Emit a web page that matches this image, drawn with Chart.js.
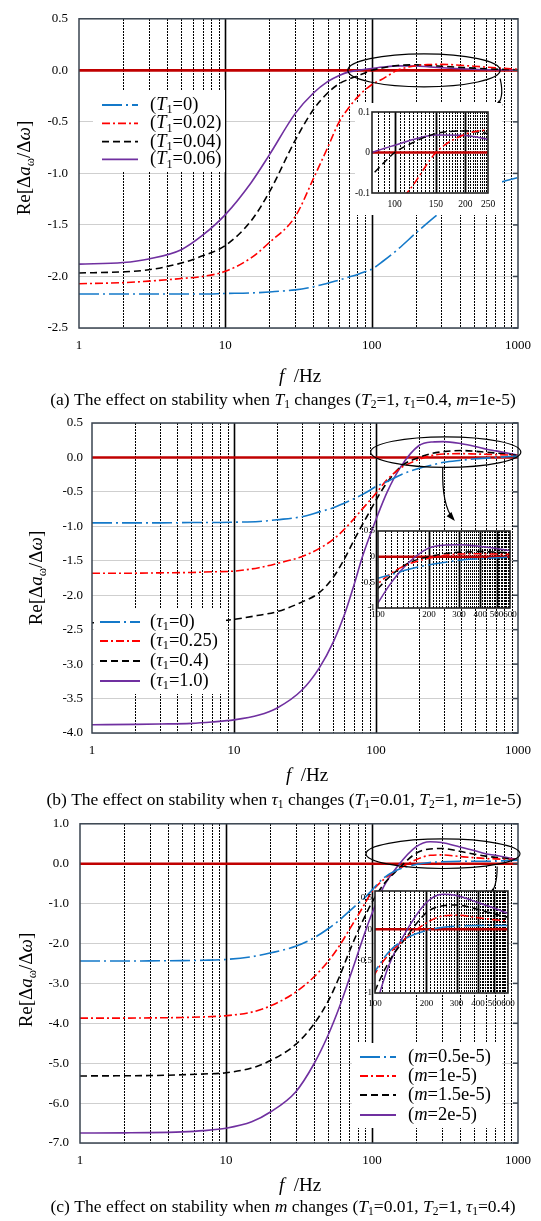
<!DOCTYPE html>
<html>
<head>
<meta charset="utf-8">
<script src="https://cdn.jsdelivr.net/npm/chart.js@4.4.0/dist/chart.umd.min.js"></script>
<style>
  body { margin: 0; background: #fff; width: 541px; height: 1221px; position: relative; overflow: hidden; }
  canvas { position: absolute; }
</style>
</head>
<body>
<canvas id="chartA" width="541" height="415" style="left:0px;top:0px"></canvas>
<canvas id="chartB" width="541" height="410" style="left:0px;top:405px"></canvas>
<canvas id="chartC" width="541" height="416" style="left:0px;top:805px"></canvas>
<canvas id="insetA" width="147" height="112" style="left:355px;top:103px"></canvas>
<canvas id="insetB" width="170" height="100" style="left:350px;top:522px"></canvas>
<canvas id="insetC" width="170" height="135" style="left:350px;top:882px"></canvas>
<script>
// ---- panel (a): T1 changes
var freqA = [1, 2, 3, 5, 7, 10, 15, 20, 30, 40, 50, 60, 70, 80, 90, 100, 120, 150, 200, 250, 300, 400, 500, 700, 1000];
var aT1_0    = [-2.17, -2.17, -2.17, -2.17, -2.17, -2.165, -2.16, -2.15, -2.13, -2.10, -2.065, -2.035, -2.005, -1.98, -1.955, -1.93, -1.85, -1.74, -1.58, -1.46, -1.37, -1.25, -1.18, -1.10, -1.04];
var aT1_002  = [-2.07, -2.06, -2.045, -2.02, -2.00, -1.95, -1.82, -1.67, -1.42, -1.05, -0.75, -0.50, -0.36, -0.26, -0.19, -0.14, -0.08, 0.0, 0.045, 0.056, 0.058, 0.05, 0.04, 0.025, 0.01];
var aT1_004  = [-1.966, -1.955, -1.935, -1.87, -1.80, -1.70, -1.46, -1.18, -0.68, -0.38, -0.22, -0.13, -0.085, -0.055, -0.025, 0.0, 0.025, 0.047, 0.053, 0.047, 0.04, 0.029, 0.021, 0.012, 0.005];
var aT1_006  = [-1.88, -1.865, -1.83, -1.74, -1.60, -1.40, -1.09, -0.82, -0.42, -0.22, -0.11, -0.05, -0.015, 0.0, 0.01, 0.018, 0.032, 0.043, 0.042, 0.033, 0.026, 0.016, 0.01, 0.005, 0.002];
var yTicksA = [-2.5, -2, -1.5, -1, -0.5, 0, 0.5];

// ---- panel (b): tau1 changes
var freqB = [1, 2, 3, 5, 7, 10, 15, 20, 30, 40, 50, 60, 70, 80, 90, 100, 120, 150, 200, 250, 300, 400, 500, 600, 700, 1000];
var bTau0   = [-0.95, -0.95, -0.95, -0.945, -0.945, -0.94, -0.93, -0.905, -0.86, -0.79, -0.73, -0.66, -0.60, -0.54, -0.48, -0.42, -0.35, -0.25, -0.16, -0.11, -0.07, -0.04, -0.02, -0.01, 0.0, 0.02];
var bTau025 = [-1.68, -1.68, -1.675, -1.67, -1.66, -1.65, -1.60, -1.54, -1.44, -1.32, -1.19, -1.04, -0.89, -0.75, -0.63, -0.52, -0.32, -0.15, -0.03, 0.03, 0.05, 0.055, 0.05, 0.045, 0.04, 0.03];
var bTau04  = [-2.40, -2.40, -2.395, -2.39, -2.38, -2.35, -2.29, -2.24, -2.10, -1.96, -1.74, -1.47, -1.20, -0.98, -0.79, -0.62, -0.36, -0.13, 0.0, 0.06, 0.085, 0.10, 0.09, 0.075, 0.065, 0.03];
var bTau1   = [-3.88, -3.875, -3.87, -3.86, -3.84, -3.81, -3.74, -3.64, -3.38, -3.05, -2.68, -2.28, -1.85, -1.45, -1.15, -0.90, -0.50, -0.13, 0.17, 0.225, 0.23, 0.20, 0.16, 0.12, 0.095, 0.03];
var yTicksB = [-4, -3.5, -3, -2.5, -2, -1.5, -1, -0.5, 0, 0.5];

// ---- panel (c): m changes
var freqC = [1, 2, 3, 5, 7, 10, 15, 20, 30, 40, 50, 60, 70, 80, 90, 100, 120, 150, 200, 250, 300, 400, 500, 600, 700, 1000];
var cM05 = [-2.44, -2.44, -2.435, -2.43, -2.42, -2.40, -2.33, -2.24, -2.07, -1.86, -1.63, -1.41, -1.19, -1.00, -0.84, -0.66, -0.36, -0.15, -0.02, 0.03, 0.05, 0.06, 0.06, 0.06, 0.065, 0.09];
var cM1  = [-3.87, -3.87, -3.865, -3.855, -3.84, -3.81, -3.72, -3.57, -3.22, -2.84, -2.45, -2.05, -1.65, -1.30, -0.98, -0.70, -0.40, -0.15, 0.10, 0.21, 0.22, 0.18, 0.15, 0.13, 0.12, 0.10];
var cM15 = [-5.32, -5.315, -5.31, -5.29, -5.27, -5.24, -5.12, -4.94, -4.53, -4.02, -3.45, -2.82, -2.20, -1.70, -1.30, -0.97, -0.52, -0.15, 0.26, 0.37, 0.38, 0.31, 0.24, 0.19, 0.16, 0.10];
var cM2  = [-6.75, -6.745, -6.74, -6.72, -6.69, -6.63, -6.47, -6.23, -5.72, -5.02, -4.30, -3.58, -2.88, -2.25, -1.70, -1.25, -0.58, -0.06, 0.42, 0.55, 0.53, 0.42, 0.33, 0.25, 0.21, 0.10];
var yTicksC = [-7, -6, -5, -4, -3, -2, -1, 0, 1];

var xTickLabels = [1, 10, 100, 1000];
var insetLabelsA = [100, 150, 200, 250];
var insetLabelsBC = [100, 200, 300, 400, 500, 600];
var insetYTicksA = [-0.1, 0, 0.1];
var insetYTicksB = [-1, -0.5, 0, 0.5];
var insetYTicksC = [-1, -0.5, 0, 0.5];
var stabilityBound = 0;

var SERIF = '"Liberation Serif", "Times New Roman", serif';
var FRAME = '#3a4450';
var COLORS = { blue: '#1479c9', red: '#ff0000', black: '#000000', purple: '#7030a0', zero: '#c00000' };
var DASH = { blue: [20, 4, 2, 4], red: [8, 3, 2, 3], black: [7, 4], purple: [] };

// small rich text: *italic* and _x subscript
function runs(str) {
    var out = [], it = false;
    for (var i = 0; i < str.length; i++) {
        var c = str[i], sub = false;
        if (c === '*') { it = !it; continue; }
        if (c === '_') { sub = true; c = str[++i]; }
        var last = out[out.length - 1];
        if (last && !sub && !last.sub && last.it === it) last.t += c;
        else out.push({ t: c, it: it, sub: sub });
    }
    return out;
}
function drawRich(ctx, str, x, y, size, align) {
    var rs = runs(str), w = 0;
    function font(r) { return (r.it ? 'italic ' : '') + (r.sub ? size * 0.66 : size) + 'px ' + SERIF; }
    rs.forEach(function(r) { ctx.font = font(r); r.w = ctx.measureText(r.t).width; w += r.w; });
    var cx = align === 'center' ? x - w / 2 : x;
    ctx.textAlign = 'left';
    ctx.textBaseline = 'middle';
    ctx.fillStyle = '#000';
    rs.forEach(function(r) {
        ctx.font = font(r);
        ctx.fillText(r.t, cx, y + (r.sub ? size * 0.28 : 0));
        cx += r.w;
    });
}

function series(freq, vals, label, key, width) {
    return {
        label: label,
        data: freq.map(function(f, i) { return { x: f, y: vals[i] }; }),
        borderColor: COLORS[key], borderDash: DASH[key], borderWidth: width,
        pointRadius: 0, fill: false, cubicInterpolationMode: 'monotone', inLegend: true
    };
}
function zeroSeries(freq, width) {
    return {
        label: 'zero',
        data: [{ x: freq[0], y: stabilityBound }, { x: freq[freq.length - 1], y: stabilityBound }],
        borderColor: COLORS.zero, borderWidth: width, pointRadius: 0, fill: false, inLegend: false
    };
}

function logGrid(lo, hi) {
    var out = [];
    for (var d = lo; d < hi; d *= 10)
        for (var k = 1; k < 10; k++) out.push(k * d);
    out.push(hi);
    return out;
}

function drawVGrid(chart, solid, solidW) {
    var ctx = chart.ctx, a = chart.chartArea, x = chart.scales.x;
    ctx.save();
    ctx.strokeStyle = '#000';
    x.ticks.forEach(function(t) {
        if (t.value <= x.min || t.value >= x.max) return;
        var isSolid = solid.indexOf(t.value) >= 0;
        var px = Math.round(x.getPixelForValue(t.value)) + 0.5;
        ctx.lineWidth = isSolid ? solidW : 1;
        ctx.setLineDash(isSolid ? [] : [2, 1]);
        ctx.beginPath();
        ctx.moveTo(px, Math.round(a.top));
        ctx.lineTo(px, a.bottom);
        ctx.stroke();
    });
    ctx.restore();
}

function panelDeco(p) {
    return {
        id: 'panelDeco',
        beforeDatasetsDraw: function(chart) { drawVGrid(chart, [10, 100], 1.6); },
        afterDatasetsDraw: function(chart) {
            var ctx = chart.ctx, a = chart.chartArea, x = chart.scales.x, y = chart.scales.y;
            ctx.save();
            ctx.strokeStyle = FRAME;
            ctx.lineWidth = 1.5;
            ctx.strokeRect(a.left, a.top, a.width, a.height);
            y.ticks.forEach(function(t) {
                var py = y.getPixelForValue(t.value);
                ctx.beginPath(); ctx.moveTo(a.right - 5, py); ctx.lineTo(a.right, py); ctx.stroke();
            });
            // ellipse around the zoomed region
            var e = p.ellipse;
            var ex0 = x.getPixelForValue(e.f0), ex1 = x.getPixelForValue(e.f1);
            var ey0 = y.getPixelForValue(e.v1), ey1 = y.getPixelForValue(e.v0);
            ctx.strokeStyle = '#000';
            ctx.lineWidth = 1.2;
            ctx.beginPath();
            ctx.ellipse((ex0 + ex1) / 2, (ey0 + ey1) / 2, (ex1 - ex0) / 2, (ey1 - ey0) / 2, 0, 0, Math.PI * 2);
            ctx.stroke();
            // arrow to the inset
            var pts = p.arrow.map(function(q) { return [x.getPixelForValue(q[0]), y.getPixelForValue(q[1])]; });
            ctx.beginPath();
            ctx.moveTo(pts[0][0], pts[0][1]);
            ctx.quadraticCurveTo(pts[1][0], pts[1][1], pts[2][0], pts[2][1]);
            ctx.stroke();
            var ang = Math.atan2(pts[2][1] - pts[1][1], pts[2][0] - pts[1][0]);
            ctx.fillStyle = '#000';
            ctx.beginPath();
            ctx.moveTo(pts[2][0] + 2 * Math.cos(ang), pts[2][1] + 2 * Math.sin(ang));
            ctx.lineTo(pts[2][0] - 7 * Math.cos(ang) + 3.2 * Math.sin(ang), pts[2][1] - 7 * Math.sin(ang) - 3.2 * Math.cos(ang));
            ctx.lineTo(pts[2][0] - 7 * Math.cos(ang) - 3.2 * Math.sin(ang), pts[2][1] - 7 * Math.sin(ang) + 3.2 * Math.cos(ang));
            ctx.closePath();
            ctx.fill();
            // legend
            var L = p.legend;
            ctx.fillStyle = '#fff';
            ctx.fillRect(L.box[0], L.box[1], L.box[2], L.box[3]);
            var items = chart.data.datasets.filter(function(d) { return d.inLegend; });
            items.forEach(function(d, i) {
                var ry = L.rows[i];
                ctx.strokeStyle = d.borderColor;
                ctx.lineWidth = 1.8;
                ctx.setLineDash(d.borderDash || []);
                ctx.beginPath(); ctx.moveTo(L.x0, ry); ctx.lineTo(L.x1, ry); ctx.stroke();
                ctx.setLineDash([]);
                drawRich(ctx, d.label, L.tx, ry, L.size, 'left');
            });
            ctx.restore();
        },
        afterDraw: function(chart) {
            var ctx = chart.ctx;
            ctx.save();
            ctx.translate(p.yTitle[0], p.yTitle[1]);
            ctx.rotate(-Math.PI / 2);
            drawRich(ctx, 'Re[Δ*a*_ω/Δ*ω*]', 0, 0, 19, 'center');
            ctx.restore();
            ctx.save();
            drawRich(ctx, '*f*  /Hz', p.xTitle[0], p.xTitle[1], 19, 'center');
            drawRich(ctx, p.caption, p.capPos[0], p.capPos[1], 17.5, 'center');
            ctx.restore();
        }
    };
}

function mainChart(id, p) {
    return new Chart(document.getElementById(id), {
        type: 'line',
        data: { datasets: p.datasets },
        options: {
            responsive: false, animation: false, devicePixelRatio: 1,
            layout: { padding: p.padding },
            plugins: { legend: { display: false }, tooltip: { enabled: false } },
            scales: {
                x: {
                    type: 'logarithmic', min: 1, max: 1000,
                    afterBuildTicks: function(s) { s.ticks = logGrid(1, 1000).map(function(v) { return { value: v }; }); },
                    afterFit: function(s) { s.height = 30; },
                    grid: { display: false, drawTicks: false }, border: { display: false },
                    ticks: {
                        autoSkip: false, maxRotation: 0, minRotation: 0, padding: 10, color: '#000',
                        font: { family: SERIF, size: 13 },
                        callback: function(v) { return xTickLabels.indexOf(v) >= 0 ? String(v) : ''; }
                    }
                },
                y: {
                    type: 'linear', min: p.yTicks[0], max: p.yTicks[p.yTicks.length - 1],
                    afterBuildTicks: function(s) { s.ticks = p.yTicks.map(function(v) { return { value: v }; }); },
                    afterFit: function(s) { s.width = p.yWidth; },
                    grid: { color: '#cfcfcf', lineWidth: 1, drawTicks: false }, border: { display: false },
                    ticks: {
                        padding: p.yPad, color: '#000', font: { family: SERIF, size: 13 },
                        callback: function(v) { return Number(v).toFixed(1); }
                    }
                }
            }
        },
        plugins: [panelDeco(p)]
    });
}

function insetDeco(q) {
    return {
        id: 'insetDeco',
        beforeDraw: function(chart) {
            var ctx = chart.ctx, a = chart.chartArea;
            ctx.save();
            ctx.fillStyle = '#fff';
            if (q.fullBg) ctx.fillRect(0, 0, chart.width, chart.height);
            else ctx.fillRect(a.left, a.top, a.width, a.height);
            ctx.restore();
        },
        beforeDatasetsDraw: function(chart) { drawVGrid(chart, q.solid, 1.8); },
        afterDatasetsDraw: function(chart) {
            var ctx = chart.ctx, a = chart.chartArea;
            ctx.save();
            ctx.strokeStyle = '#222';
            ctx.lineWidth = 1.6;
            ctx.strokeRect(a.left, a.top, a.width, a.height);
            ctx.restore();
        }
    };
}

function insetChart(id, q) {
    var grid = [];
    for (var v = q.xmin; v <= q.xmax; v += q.step) grid.push(v);
    return new Chart(document.getElementById(id), {
        type: 'line',
        data: { datasets: q.datasets },
        options: {
            responsive: false, animation: false, devicePixelRatio: 1,
            layout: { padding: q.padding },
            plugins: { legend: { display: false }, tooltip: { enabled: false } },
            scales: {
                x: {
                    type: 'logarithmic', min: q.xmin, max: q.xmax,
                    afterBuildTicks: function(s) { s.ticks = grid.map(function(v) { return { value: v }; }); },
                    afterFit: function(s) { s.height = q.xHeight; },
                    grid: { display: false, drawTicks: false }, border: { display: false },
                    ticks: {
                        autoSkip: false, maxRotation: 0, minRotation: 0, padding: q.xPad, color: '#000',
                        font: { family: SERIF, size: q.font },
                        callback: function(v) { return q.labels.indexOf(v) >= 0 ? String(v) : ''; }
                    }
                },
                y: {
                    type: 'linear', min: q.ymin, max: q.ymax,
                    afterBuildTicks: function(s) { s.ticks = q.yTicks.map(function(v) { return { value: v }; }); },
                    afterFit: function(s) { s.width = q.yWidth; },
                    grid: { display: false, drawTicks: false }, border: { display: false },
                    ticks: {
                        padding: q.yPad, color: '#000', font: { family: SERIF, size: q.font },
                        callback: function(v) { return String(v); }
                    }
                }
            }
        },
        plugins: [insetDeco(q)]
    });
}

function setA(w) {
    return [
        series(freqA, aT1_0, '(*T*_1=0)', 'blue', w),
        series(freqA, aT1_002, '(*T*_1=0.02)', 'red', w),
        series(freqA, aT1_004, '(*T*_1=0.04)', 'black', w),
        series(freqA, aT1_006, '(*T*_1=0.06)', 'purple', w),
        zeroSeries(freqA, w + 1)
    ];
}
function setB(w) {
    return [
        series(freqB, bTau0, '(*τ*_1=0)', 'blue', w),
        series(freqB, bTau025, '(*τ*_1=0.25)', 'red', w),
        series(freqB, bTau04, '(*τ*_1=0.4)', 'black', w),
        series(freqB, bTau1, '(*τ*_1=1.0)', 'purple', w),
        zeroSeries(freqB, w + 1)
    ];
}
function setC(w) {
    return [
        series(freqC, cM05, '(*m*=0.5e-5)', 'blue', w),
        series(freqC, cM1, '(*m*=1e-5)', 'red', w),
        series(freqC, cM15, '(*m*=1.5e-5)', 'black', w),
        series(freqC, cM2, '(*m*=2e-5)', 'purple', w),
        zeroSeries(freqC, w + 1)
    ];
}

mainChart('chartA', {
    datasets: setA(1.6), yTicks: yTicksA,
    padding: { left: 0, right: 21, top: 7.5, bottom: 57 }, yWidth: 79, yPad: 11,
    ellipse: { f0: 68.7, f1: 755, v0: -0.16, v1: 0.16 },
    arrow: [[755, -0.081], [816, -0.287], [698, -0.352]],
    legend: { box: [93, 90, 132, 82], x0: 102, x1: 138, tx: 150, rows: [105, 123.3, 141.7, 159.3], size: 18.5 },
    yTitle: [25, 168], xTitle: [300, 377], capPos: [283, 400],
    caption: '(a) The effect on stability when *T*_1 changes (*T*_2=1, *τ*_1=0.4, *m*=1e-5)'
});
mainChart('chartB', {
    datasets: setB(1.6), yTicks: yTicksB,
    padding: { left: 0, right: 18, top: 18, bottom: 52 }, yWidth: 92, yPad: 9,
    ellipse: { f0: 91.7, f1: 1047, v0: -0.145, v1: 0.30 },
    arrow: [[295, -0.145], [290, -0.70], [352, -0.90]],
    legend: { box: [94, 203, 132, 86], x0: 100, x1: 140, tx: 150, rows: [217, 236, 256, 276], size: 18.5 },
    yTitle: [37, 173], xTitle: [307, 371], capPos: [284, 395],
    caption: '(b) The effect on stability when *τ*_1 changes (*T*_1=0.01, *T*_2=1, *m*=1e-5)'
});
mainChart('chartC', {
    datasets: setC(1.6), yTicks: yTicksC,
    padding: { left: 0, right: 20, top: 13, bottom: 48 }, yWidth: 80, yPad: 11,
    ellipse: { f0: 91, f1: 1032, v0: -0.12, v1: 0.62 },
    arrow: [[720, -0.07], [720, -0.64], [632, -0.77]],
    legend: { box: [352, 238, 150, 85], x0: 360, x1: 396, tx: 408, rows: [252, 271, 290, 310], size: 18.5 },
    yTitle: [27, 175], xTitle: [300, 381], capPos: [283, 402],
    caption: '(c) The effect on stability when *m* changes (*T*_1=0.01, *T*_2=1, *τ*_1=0.4)'
});

insetChart('insetA', {
    datasets: setA(1.5), fullBg: true,
    xmin: 80, xmax: 250, step: 5, solid: [100, 150, 200], labels: insetLabelsA,
    ymin: -0.1, ymax: 0.1, yTicks: insetYTicksA,
    padding: { left: 0, right: 14, top: 9, bottom: 2 }, xHeight: 20, xPad: 6, yWidth: 17, yPad: 2, font: 9.5
});
insetChart('insetB', {
    datasets: setB(1.5), fullBg: false,
    xmin: 100, xmax: 600, step: 10, solid: [200, 300, 400, 500], labels: insetLabelsBC,
    ymin: -1, ymax: 0.5, yTicks: insetYTicksB,
    padding: { left: 0, right: 10, top: 9, bottom: 0 }, xHeight: 14, xPad: 1, yWidth: 28, yPad: 3, font: 9
});
insetChart('insetC', {
    datasets: setC(1.5), fullBg: false,
    xmin: 100, xmax: 600, step: 10, solid: [200, 300, 400, 500], labels: insetLabelsBC,
    ymin: -1, ymax: 0.6, yTicks: insetYTicksC,
    padding: { left: 0, right: 12, top: 9, bottom: 4 }, xHeight: 20, xPad: 5, yWidth: 25, yPad: 3, font: 9
});
</script>
</body>
</html>
